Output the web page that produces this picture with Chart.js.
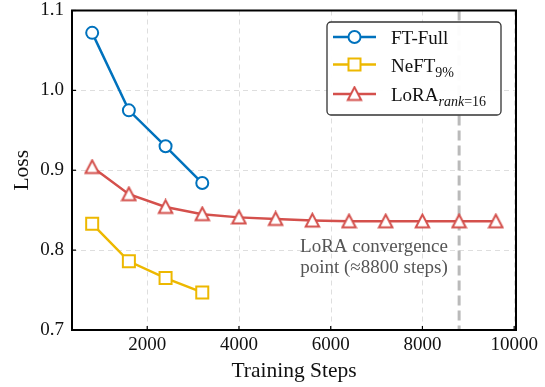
<!DOCTYPE html>
<html>
<head>
<meta charset="utf-8">
<script src="https://cdn.jsdelivr.net/npm/chart.js@4/dist/chart.umd.min.js"></script>
<style>
  html, body { margin: 0; padding: 0; background: #fff; }
  #wrap { width: 545px; height: 387px; }
</style>
</head>
<body>
<div id="wrap"><canvas id="chart" width="545" height="387"></canvas></div>
<script>
// datos
const steps = [800, 1600, 2400, 3200, 4000, 4800, 5600, 6400, 7200, 8000, 8800, 9600];
const ftFull = [1.072, 0.975, 0.930, 0.884];
const neft = [0.833, 0.786, 0.765, 0.747];
const lora = [0.904, 0.870, 0.854, 0.845, 0.841, 0.839, 0.837, 0.836, 0.836, 0.836, 0.836, 0.836];
const xTicks = [2000, 4000, 6000, 8000, 10000];
const convergenceStep = 8800;
const noteLines = ['LoRA convergence', 'point (≈8800 steps)'];

const FONT = "'Liberation Serif', 'DejaVu Serif', serif";
const BLUE = '#0072BD';
const YELLOW = '#EDB800';
const RED = '#D4504C';

function toPoints(vals) {
  return vals.map((v, i) => ({ x: steps[i], y: v }));
}

// triángulo tipo matplotlib (centrado en la caja)
function triangleMarker(color) {
  const c = document.createElement('canvas');
  c.width = 17; c.height = 17;
  const g = c.getContext('2d');
  g.beginPath();
  g.moveTo(8.5, 1.8);
  g.lineTo(1.8, 14.6);
  g.lineTo(15.2, 14.6);
  g.closePath();
  g.fillStyle = '#fff';
  g.fill();
  g.lineWidth = 2;
  g.lineJoin = 'miter';
  g.strokeStyle = color;
  g.stroke();
  return c;
}
const triMarker = triangleMarker(RED);

// rejilla, marco, línea de convergencia y leyenda
const decoracion = {
  id: 'decoracion',
  beforeDatasetsDraw(chart) {
    const { ctx, chartArea: a, scales: { x, y } } = chart;
    ctx.save();
    ctx.strokeStyle = '#dedede';
    ctx.lineWidth = 1;
    ctx.setLineDash([5, 4]);
    xTicks.forEach(t => {
      const px = Math.round(x.getPixelForValue(t)) + 0.5;
      ctx.beginPath(); ctx.moveTo(px, a.top); ctx.lineTo(px, a.bottom); ctx.stroke();
    });
    [0.8, 0.9, 1.0].forEach(t => {
      const py = Math.round(y.getPixelForValue(t)) + 0.5;
      ctx.beginPath(); ctx.moveTo(a.left, py); ctx.lineTo(a.right, py); ctx.stroke();
    });
    // línea vertical de convergencia
    const cx = x.getPixelForValue(convergenceStep);
    ctx.strokeStyle = '#bababa';
    ctx.lineWidth = 3;
    ctx.setLineDash([10, 5]);
    ctx.beginPath(); ctx.moveTo(cx, a.top); ctx.lineTo(cx, a.bottom); ctx.stroke();
    ctx.setLineDash([]);
    // nota
    ctx.fillStyle = '#555';
    ctx.font = '19px ' + FONT;
    ctx.textAlign = 'center';
    ctx.textBaseline = 'middle';
    ctx.fillText(noteLines[0], 374, 247);
    ctx.fillText(noteLines[1], 374, 268);
    ctx.restore();
  },
  afterDraw(chart) {
    const { ctx, chartArea: a, scales: { x, y } } = chart;
    ctx.save();
    // ticks hacia dentro
    ctx.strokeStyle = '#000';
    ctx.lineWidth = 1.2;
    xTicks.forEach(t => {
      const px = x.getPixelForValue(t);
      ctx.beginPath(); ctx.moveTo(px, a.bottom); ctx.lineTo(px, a.bottom - 4); ctx.stroke();
    });
    [0.7, 0.8, 0.9, 1.0, 1.1].forEach(t => {
      const py = y.getPixelForValue(t);
      ctx.beginPath(); ctx.moveTo(a.left, py); ctx.lineTo(a.left + 4, py); ctx.stroke();
    });
    // marco
    ctx.lineWidth = 2;
    ctx.strokeRect(a.left, a.top, a.right - a.left, a.bottom - a.top);

    // leyenda
    const bx = 327, by = 22, bw = 174, bh = 93;
    ctx.beginPath();
    ctx.roundRect(bx, by, bw, bh, 4);
    ctx.fillStyle = 'rgba(255,255,255,0.95)';
    ctx.fill();
    ctx.strokeStyle = '#333';
    ctx.lineWidth = 1.3;
    ctx.stroke();

    const rows = [
      { color: BLUE, marker: 'circle', y: 37, main: 'FT-Full' },
      { color: YELLOW, marker: 'rect', y: 64.5, main: 'NeFT', sub: [['9%', '']] },
      { color: RED, marker: 'tri', y: 94, main: 'LoRA', sub: [['rank', 'italic '], ['=16', '']] }
    ];
    rows.forEach(r => {
      ctx.strokeStyle = r.color;
      ctx.lineWidth = 2.5;
      ctx.beginPath(); ctx.moveTo(333, r.y); ctx.lineTo(376, r.y); ctx.stroke();
      const mx = 354.5;
      if (r.marker === 'circle') {
        ctx.beginPath(); ctx.arc(mx, r.y, 6, 0, Math.PI * 2);
        ctx.fillStyle = '#fff'; ctx.fill();
        ctx.lineWidth = 2; ctx.stroke();
      } else if (r.marker === 'rect') {
        ctx.fillStyle = '#fff';
        ctx.fillRect(mx - 6, r.y - 6, 12, 12);
        ctx.lineWidth = 2; ctx.strokeRect(mx - 6, r.y - 6, 12, 12);
      } else {
        ctx.drawImage(triMarker, mx - 8.5, r.y - 8.5);
      }
      ctx.fillStyle = '#111';
      ctx.textAlign = 'left';
      ctx.textBaseline = 'alphabetic';
      ctx.font = '19px ' + FONT;
      ctx.fillText(r.main, 391, r.y + 7);
      let tx = 391 + ctx.measureText(r.main).width;
      if (r.sub) {
        r.sub.forEach(([s, style]) => {
          ctx.font = style + '14px ' + FONT;
          ctx.fillText(s, tx, r.y + 12);
          tx += ctx.measureText(s).width;
        });
      }
    });
    ctx.restore();
  }
};

const pointBase = {
  pointBackgroundColor: '#fff',
  pointBorderWidth: 2,
  borderWidth: 2.5,
  fill: false,
  tension: 0
};

new Chart(document.getElementById('chart'), {
  type: 'line',
  data: {
    datasets: [
      Object.assign({}, pointBase, {
        label: 'LoRA', data: toPoints(lora), borderColor: RED,
        pointBorderColor: RED, pointStyle: triMarker, pointRadius: 7
      }),
      Object.assign({}, pointBase, {
        label: 'NeFT', data: toPoints(neft), borderColor: YELLOW,
        pointBorderColor: YELLOW, pointStyle: 'rect', pointRadius: 8.5
      }),
      Object.assign({}, pointBase, {
        label: 'FT-Full', data: toPoints(ftFull), borderColor: BLUE,
        pointBorderColor: BLUE, pointStyle: 'circle', pointRadius: 6
      })
    ]
  },
  options: {
    responsive: false,
    animation: false,
    layout: { padding: { top: 9, right: 29, left: 0, bottom: 0 } },
    plugins: { legend: { display: false }, tooltip: { enabled: false } },
    scales: {
      x: {
        type: 'linear',
        min: 360,
        max: 10040,
        afterBuildTicks: s => { s.ticks = xTicks.map(v => ({ value: v })); },
        afterFit: s => { s.height = 57; s.paddingLeft = 0; s.paddingRight = 0; },
        grid: { display: false, drawTicks: false },
        border: { display: false },
        ticks: { color: '#111', font: { family: FONT, size: 19 }, padding: 4, maxRotation: 0,
                 callback: v => String(v) },
        title: { display: true, text: 'Training Steps', color: '#111',
                 font: { family: FONT, size: 21.5 }, padding: { top: 0, bottom: 2.5 } }
      },
      y: {
        min: 0.7,
        max: 1.1,
        afterFit: s => { s.width = 72; s.paddingTop = 0; s.paddingBottom = 0; },
        grid: { display: false, drawTicks: false },
        border: { display: false },
        ticks: { stepSize: 0.1, color: '#111', font: { family: FONT, size: 19 }, padding: 8,
                 callback: v => Number(v).toFixed(1) },
        title: { display: true, text: 'Loss', color: '#111',
                 font: { family: FONT, size: 21.5 }, padding: { top: 9, bottom: 0 } }
      }
    }
  },
  plugins: [decoracion]
});
</script>
</body>
</html>
